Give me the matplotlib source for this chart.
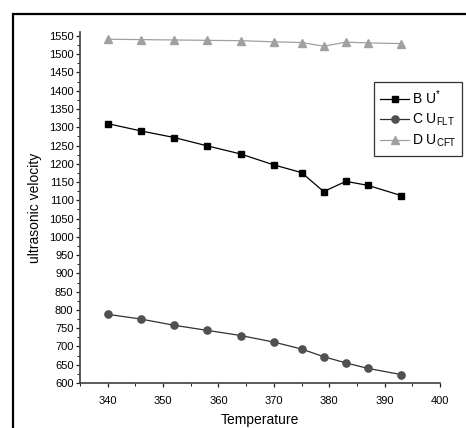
import numpy as np
import matplotlib
matplotlib.use("Agg")
import matplotlib.pyplot as plt
from matplotlib.patches import Rectangle
from matplotlib.ticker import MultipleLocator

plt.rcParams['font.family'] = ['Liberation Sans', 'DejaVu Sans']
plt.rcParams['mathtext.fontset'] = 'custom'
plt.rcParams['mathtext.rm'] = 'Liberation Sans'
plt.rcParams['mathtext.it'] = 'Liberation Sans'
plt.rcParams['mathtext.default'] = 'regular'

temperature = [340, 346, 352, 358, 364, 370, 375, 379, 383, 387, 393]
bu = [1310, 1290, 1272, 1249, 1227, 1197, 1176, 1124, 1152, 1141, 1113]
cu_flt = [788, 775, 758, 744, 730, 712, 693, 672, 655, 640, 623]
du_cft = [1541, 1540, 1539, 1538, 1537, 1534, 1532, 1522, 1533, 1531, 1529]

W, H = 466, 428
fig = plt.figure(figsize=(W / 100, H / 100), dpi=100)

# outer frame (runs off the right and bottom edges)
fig.patches.append(Rectangle((13 / W, -0.2), 2.0, (H - 13.5) / H + 0.2,
                             transform=fig.transFigure, fill=False,
                             edgecolor='black', linewidth=1.6, zorder=0))

ax = fig.add_axes([80 / W, 45 / H, 360 / W, (383 - 32.3) / H])

ax.plot(temperature, bu, color='black', lw=0.9, marker='s', ms=4.6,
        mfc='black', mec='black', label='B U$^{*}$')
ax.plot(temperature, cu_flt, color='#303030', lw=0.9, marker='o', ms=5.2,
        mfc='#505050', mec='#505050', label='C U$_{FLT}$')
ax.plot(temperature, du_cft, color='#a0a0a0', lw=0.9, marker='^', ms=5.4,
        mfc='#a0a0a0', mec='#a0a0a0', label='D U$_{CFT}$')

ax.set_xlim(335, 400)
ax.set_ylim(600, 1560)
ax.xaxis.set_major_locator(MultipleLocator(10))
ax.xaxis.set_minor_locator(MultipleLocator(5))
ax.yaxis.set_major_locator(MultipleLocator(50))
ax.yaxis.set_minor_locator(MultipleLocator(25))
ax.set_xticks(np.arange(340, 401, 10))

for side in ('top', 'right'):
    ax.spines[side].set_visible(False)
for side in ('left', 'bottom'):
    ax.spines[side].set_color('#404040')
    ax.spines[side].set_linewidth(1.2)

ax.tick_params(which='major', direction='out', length=3.2, width=0.9,
               color='#202020', labelsize=8, pad=1.5)
ax.tick_params(which='minor', direction='out', length=2, width=0.7,
               color='#202020')
ax.tick_params(axis='x', which='major', pad=6)

ax.set_ylabel('ultrasonic velocity', fontsize=10, labelpad=5)
ax.set_xlabel('Temperature', fontsize=10, labelpad=5.5)

leg = ax.legend(loc='upper left', bbox_to_anchor=((374 - 80) / 360, (383 - 82) / (383 - 32.3)),
                fontsize=10, frameon=True, fancybox=False, handlelength=2.1,
                handletextpad=0.15, borderpad=0.45, labelspacing=0.35,
                borderaxespad=0)
leg.get_frame().set_edgecolor('black')
leg.get_frame().set_linewidth(0.9)

fig.savefig('out.png', dpi=100)
